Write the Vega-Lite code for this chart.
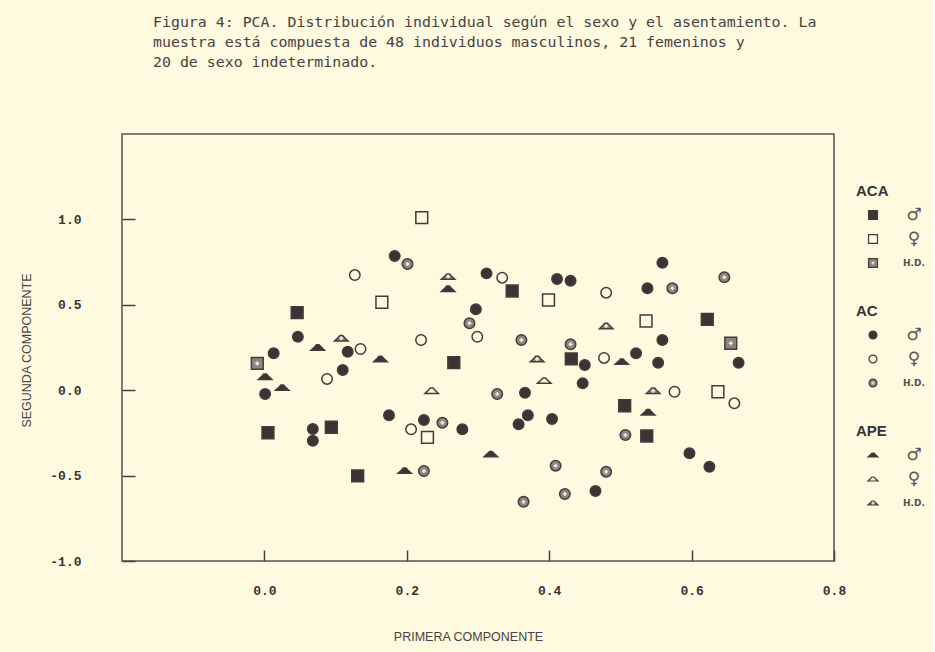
{
  "$schema": "https://vega.github.io/schema/vega-lite/v6.json",
  "background": "#fdfadf",
  "padding": {"left": 19, "top": 15, "right": 8, "bottom": 8},
  "bounds": "flush",
  "spacing": 39,
  "title": {
    "text": ["Figura 4: PCA. Distribución individual según el sexo y el asentamiento. La", "muestra está compuesta de 48 individuos masculinos, 21 femeninos y", "20 de sexo indeterminado."],
    "anchor": "start", "frame": "group", "dx": 31, "offset": 63,
    "font": "DejaVu Sans Mono", "fontSize": 14.9, "fontWeight": "normal", "color": "#4a4242", "lineHeight": 20
  },
  "datasets": {
    "pts": [
      {"sitio": "ACA", "sexo": "M", "pc1": 0.046, "pc2": 0.454},
      {"sitio": "ACA", "sexo": "M", "pc1": 0.348, "pc2": 0.581},
      {"sitio": "ACA", "sexo": "M", "pc1": 0.622, "pc2": 0.415},
      {"sitio": "ACA", "sexo": "M", "pc1": 0.266, "pc2": 0.161},
      {"sitio": "ACA", "sexo": "M", "pc1": 0.431, "pc2": 0.183},
      {"sitio": "ACA", "sexo": "M", "pc1": 0.506, "pc2": -0.091},
      {"sitio": "ACA", "sexo": "M", "pc1": 0.537, "pc2": -0.268},
      {"sitio": "ACA", "sexo": "M", "pc1": 0.005, "pc2": -0.249},
      {"sitio": "ACA", "sexo": "M", "pc1": 0.094, "pc2": -0.217},
      {"sitio": "ACA", "sexo": "M", "pc1": 0.131, "pc2": -0.502},
      {"sitio": "ACA", "sexo": "F", "pc1": 0.221, "pc2": 1.010},
      {"sitio": "ACA", "sexo": "F", "pc1": 0.165, "pc2": 0.515},
      {"sitio": "ACA", "sexo": "F", "pc1": 0.399, "pc2": 0.528},
      {"sitio": "ACA", "sexo": "F", "pc1": 0.536, "pc2": 0.405},
      {"sitio": "ACA", "sexo": "F", "pc1": 0.637, "pc2": -0.009},
      {"sitio": "ACA", "sexo": "F", "pc1": 0.229, "pc2": -0.276},
      {"sitio": "ACA", "sexo": "ND", "pc1": -0.010, "pc2": 0.157},
      {"sitio": "ACA", "sexo": "ND", "pc1": 0.655, "pc2": 0.275},
      {"sitio": "AC", "sexo": "M", "pc1": 0.047, "pc2": 0.313},
      {"sitio": "AC", "sexo": "M", "pc1": 0.183, "pc2": 0.786},
      {"sitio": "AC", "sexo": "M", "pc1": 0.312, "pc2": 0.684},
      {"sitio": "AC", "sexo": "M", "pc1": 0.411, "pc2": 0.651},
      {"sitio": "AC", "sexo": "M", "pc1": 0.430, "pc2": 0.641},
      {"sitio": "AC", "sexo": "M", "pc1": 0.297, "pc2": 0.474},
      {"sitio": "AC", "sexo": "M", "pc1": 0.559, "pc2": 0.746},
      {"sitio": "AC", "sexo": "M", "pc1": 0.538, "pc2": 0.597},
      {"sitio": "AC", "sexo": "M", "pc1": 0.559, "pc2": 0.294},
      {"sitio": "AC", "sexo": "M", "pc1": 0.522, "pc2": 0.216},
      {"sitio": "AC", "sexo": "M", "pc1": 0.553, "pc2": 0.161},
      {"sitio": "AC", "sexo": "M", "pc1": 0.666, "pc2": 0.161},
      {"sitio": "AC", "sexo": "M", "pc1": 0.597, "pc2": -0.369},
      {"sitio": "AC", "sexo": "M", "pc1": 0.625, "pc2": -0.448},
      {"sitio": "AC", "sexo": "M", "pc1": 0.450, "pc2": 0.148},
      {"sitio": "AC", "sexo": "M", "pc1": 0.447, "pc2": 0.040},
      {"sitio": "AC", "sexo": "M", "pc1": 0.366, "pc2": -0.015},
      {"sitio": "AC", "sexo": "M", "pc1": 0.175, "pc2": -0.147},
      {"sitio": "AC", "sexo": "M", "pc1": 0.224, "pc2": -0.174},
      {"sitio": "AC", "sexo": "M", "pc1": 0.278, "pc2": -0.229},
      {"sitio": "AC", "sexo": "M", "pc1": 0.370, "pc2": -0.147},
      {"sitio": "AC", "sexo": "M", "pc1": 0.357, "pc2": -0.200},
      {"sitio": "AC", "sexo": "M", "pc1": 0.404, "pc2": -0.169},
      {"sitio": "AC", "sexo": "M", "pc1": 0.465, "pc2": -0.590},
      {"sitio": "AC", "sexo": "M", "pc1": 0.013, "pc2": 0.216},
      {"sitio": "AC", "sexo": "M", "pc1": 0.001, "pc2": -0.022},
      {"sitio": "AC", "sexo": "M", "pc1": 0.068, "pc2": -0.227},
      {"sitio": "AC", "sexo": "M", "pc1": 0.068, "pc2": -0.296},
      {"sitio": "AC", "sexo": "M", "pc1": 0.117, "pc2": 0.225},
      {"sitio": "AC", "sexo": "M", "pc1": 0.110, "pc2": 0.118},
      {"sitio": "AC", "sexo": "F", "pc1": 0.127, "pc2": 0.674},
      {"sitio": "AC", "sexo": "F", "pc1": 0.334, "pc2": 0.659},
      {"sitio": "AC", "sexo": "F", "pc1": 0.480, "pc2": 0.571},
      {"sitio": "AC", "sexo": "F", "pc1": 0.220, "pc2": 0.294},
      {"sitio": "AC", "sexo": "F", "pc1": 0.299, "pc2": 0.313},
      {"sitio": "AC", "sexo": "F", "pc1": 0.477, "pc2": 0.189},
      {"sitio": "AC", "sexo": "F", "pc1": 0.576, "pc2": -0.009},
      {"sitio": "AC", "sexo": "F", "pc1": 0.660, "pc2": -0.077},
      {"sitio": "AC", "sexo": "F", "pc1": 0.206, "pc2": -0.229},
      {"sitio": "AC", "sexo": "F", "pc1": 0.135, "pc2": 0.241},
      {"sitio": "AC", "sexo": "F", "pc1": 0.088, "pc2": 0.066},
      {"sitio": "AC", "sexo": "ND", "pc1": 0.201, "pc2": 0.739},
      {"sitio": "AC", "sexo": "ND", "pc1": 0.288, "pc2": 0.392},
      {"sitio": "AC", "sexo": "ND", "pc1": 0.361, "pc2": 0.294},
      {"sitio": "AC", "sexo": "ND", "pc1": 0.430, "pc2": 0.269},
      {"sitio": "AC", "sexo": "ND", "pc1": 0.646, "pc2": 0.661},
      {"sitio": "AC", "sexo": "ND", "pc1": 0.573, "pc2": 0.597},
      {"sitio": "AC", "sexo": "ND", "pc1": 0.507, "pc2": -0.262},
      {"sitio": "AC", "sexo": "ND", "pc1": 0.480, "pc2": -0.477},
      {"sitio": "AC", "sexo": "ND", "pc1": 0.327, "pc2": -0.022},
      {"sitio": "AC", "sexo": "ND", "pc1": 0.250, "pc2": -0.190},
      {"sitio": "AC", "sexo": "ND", "pc1": 0.224, "pc2": -0.473},
      {"sitio": "AC", "sexo": "ND", "pc1": 0.409, "pc2": -0.442},
      {"sitio": "AC", "sexo": "ND", "pc1": 0.422, "pc2": -0.608},
      {"sitio": "AC", "sexo": "ND", "pc1": 0.364, "pc2": -0.653},
      {"sitio": "APE", "sexo": "M", "pc1": 0.258, "pc2": 0.594},
      {"sitio": "APE", "sexo": "M", "pc1": 0.502, "pc2": 0.167},
      {"sitio": "APE", "sexo": "M", "pc1": 0.539, "pc2": -0.129},
      {"sitio": "APE", "sexo": "M", "pc1": 0.163, "pc2": 0.183},
      {"sitio": "APE", "sexo": "M", "pc1": 0.318, "pc2": -0.374},
      {"sitio": "APE", "sexo": "M", "pc1": 0.197, "pc2": -0.471},
      {"sitio": "APE", "sexo": "M", "pc1": 0.001, "pc2": 0.079},
      {"sitio": "APE", "sexo": "M", "pc1": 0.025, "pc2": 0.015},
      {"sitio": "APE", "sexo": "M", "pc1": 0.075, "pc2": 0.250},
      {"sitio": "APE", "sexo": "F", "pc1": 0.393, "pc2": 0.056},
      {"sitio": "APE", "sexo": "F", "pc1": 0.235, "pc2": -0.003},
      {"sitio": "APE", "sexo": "ND", "pc1": 0.108, "pc2": 0.304},
      {"sitio": "APE", "sexo": "ND", "pc1": 0.258, "pc2": 0.665},
      {"sitio": "APE", "sexo": "ND", "pc1": 0.383, "pc2": 0.183},
      {"sitio": "APE", "sexo": "ND", "pc1": 0.546, "pc2": -0.003},
      {"sitio": "APE", "sexo": "ND", "pc1": 0.480, "pc2": 0.376}
    ],
    "leg": [
      {"sitio": "ACA", "sexo": "M", "key": "ACA-M", "lab": "♂"},
      {"sitio": "ACA", "sexo": "F", "key": "ACA-F", "lab": "♀"},
      {"sitio": "ACA", "sexo": "ND", "key": "ACA-ND", "lab": "H.D."},
      {"sitio": "AC", "sexo": "M", "key": "AC-M", "lab": "♂"},
      {"sitio": "AC", "sexo": "F", "key": "AC-F", "lab": "♀"},
      {"sitio": "AC", "sexo": "ND", "key": "AC-ND", "lab": "H.D."},
      {"sitio": "APE", "sexo": "M", "key": "APE-M", "lab": "♂"},
      {"sitio": "APE", "sexo": "F", "key": "APE-F", "lab": "♀"},
      {"sitio": "APE", "sexo": "ND", "key": "APE-ND", "lab": "H.D."}
    ],
    "hdr": [
      {"sitio": "ACA", "key": "ACA-h"},
      {"sitio": "AC", "key": "AC-h"},
      {"sitio": "APE", "key": "APE-h"}
    ]
  },
  "hconcat": [
    {
      "width": 712,
      "height": 427,
      "data": {"name": "pts"},
      "layer": [
        {
          "mark": {"type": "point", "filled": true, "stroke": "#453b3b", "strokeWidth": 1.5, "opacity": 1},
          "encoding": {
            "x": {
              "field": "pc1", "type": "quantitative",
              "scale": {"domain": [-0.2, 0.8], "nice": false, "zero": false},
              "axis": {
                "values": [0, 0.2, 0.4, 0.6, 0.8],
                "labelExpr": "(datum.value < 0 ? '-' : '') + format(abs(datum.value), '.1f')",
                "grid": false, "domain": false, "zindex": 2,
                "tickSize": -11, "tickColor": "#4a4040", "tickWidth": 1.5,
                "labelFont": "Liberation Mono", "labelFontWeight": "bold", "labelFontSize": 13, "labelColor": "#3a3232",
                "labelPadding": 34, "labelFlush": false, "labelOverlap": false,
                "title": "PRIMERA COMPONENTE", "titleFont": "Liberation Sans", "titleFontSize": 12.5, "titleFontWeight": "normal",
                "titleColor": "#4a4242", "titleX": 346, "titleY": 75, "titleBaseline": "middle", "titleAlign": "center"
              }
            },
            "y": {
              "field": "pc2", "type": "quantitative",
              "scale": {"domain": [-1, 1.5], "nice": false, "zero": false},
              "axis": {
                "values": [-1, -0.5, 0, 0.5, 1],
                "labelExpr": "(datum.value < 0 ? '-' : '') + format(abs(datum.value), '.1f')",
                "grid": false, "domain": false, "zindex": 2,
                "tickSize": -13, "tickColor": "#4a4040", "tickWidth": 1.5,
                "labelFont": "Liberation Mono", "labelFontWeight": "bold", "labelFontSize": 13, "labelColor": "#3a3232",
                "labelPadding": 54, "labelFlush": false, "labelOverlap": false,
                "title": "SEGUNDA COMPONENTE", "titleFont": "Liberation Sans", "titleFontSize": 12.5, "titleFontWeight": "normal",
                "titleColor": "#4a4242", "titleX": -96, "titleY": 216, "titleAngle": -90, "titleBaseline": "middle", "titleAlign": "center"
              }
            },
            "shape": {"field": "sitio", "type": "nominal", "scale": {"domain": ["ACA", "AC", "APE"], "range": ["square", "circle", "M-1.5,0.6L1.5,0.6L0.7,-0.15L0.3,-0.6L-0.3,-0.6L-0.7,-0.15Z"]}, "legend": null},
            "fill": {"field": "sexo", "type": "nominal", "scale": {"domain": ["M", "F", "ND"], "range": ["#3d3334", "#fdfadf", "#8f8485"]}, "legend": null},
            "size": {"field": "sitio", "type": "ordinal", "scale": {"domain": ["ACA", "AC", "APE"], "range": [140, 80, 80]}, "legend": null}
          }
        },
        {
          "transform": [{"filter": "datum.sexo === 'ND'"}],
          "mark": {"type": "point", "shape": "cross", "filled": true, "fill": "#f3eed3", "size": 16, "strokeWidth": 0, "opacity": 1},
          "encoding": {
            "x": {"field": "pc1", "type": "quantitative"},
            "y": {"field": "pc2", "type": "quantitative"}
          }
        }
      ]
    },
    {
      "width": 41,
      "height": 427,
      "view": {"stroke": null},
      "layer": [
        {
          "data": {"name": "leg"},
          "mark": {"type": "point", "filled": true, "stroke": "#453b3b", "strokeWidth": 1.2, "opacity": 1},
          "encoding": {
            "x": {"datum": "s", "type": "nominal", "scale": {"type": "point", "domain": ["s", "l"], "padding": 0}, "axis": null},
            "y": {"field": "key", "type": "nominal", "scale": {"type": "point", "padding": 0, "domain": ["ACA-h", "ACA-M", "ACA-F", "ACA-ND", "g1", "AC-h", "AC-M", "AC-F", "AC-ND", "g2", "APE-h", "APE-M", "APE-F", "APE-ND"], "range": [57, 369]}, "axis": null},
            "shape": {"field": "sitio", "type": "nominal", "scale": {"domain": ["ACA", "AC", "APE"], "range": ["square", "circle", "M-1.5,0.6L1.5,0.6L0.7,-0.15L0.3,-0.6L-0.3,-0.6L-0.7,-0.15Z"]}, "legend": null},
            "fill": {"field": "sexo", "type": "nominal", "scale": {"domain": ["M", "F", "ND"], "range": ["#3d3334", "#fdfadf", "#8f8485"]}, "legend": null},
            "size": {"field": "sitio", "type": "ordinal", "scale": {"domain": ["ACA", "AC", "APE"], "range": [80, 45, 50]}, "legend": null}
          }
        },
        {
          "data": {"name": "leg"},
          "transform": [{"filter": "datum.sexo === 'ND'"}],
          "mark": {"type": "point", "shape": "cross", "filled": true, "fill": "#f3eed3", "size": 9, "strokeWidth": 0, "opacity": 1},
          "encoding": {
            "x": {"datum": "s", "type": "nominal"},
            "y": {"field": "key", "type": "nominal"}
          }
        },
        {
          "data": {"name": "leg"},
          "mark": {"type": "text", "font": "DejaVu Sans", "fontWeight": "bold", "color": "#5a5050", "baseline": "middle", "align": "center"},
          "encoding": {
            "x": {"datum": "l", "type": "nominal"},
            "y": {"field": "key", "type": "nominal"},
            "text": {"field": "lab"},
            "size": {"condition": {"test": "datum.sexo === 'ND'", "value": 9}, "value": 17}
          }
        },
        {
          "data": {"name": "hdr"},
          "mark": {"type": "text", "align": "left", "dx": -17, "font": "Liberation Sans", "fontWeight": "bold", "fontSize": 15, "color": "#3a3232", "baseline": "middle"},
          "encoding": {
            "x": {"datum": "s", "type": "nominal"},
            "y": {"field": "key", "type": "nominal"},
            "text": {"field": "sitio"}
          }
        }
      ]
    }
  ],
  "resolve": {"scale": {"size": "independent"}},
  "config": {
    "view": {"stroke": "#5a5050", "strokeWidth": 1.5}
  }
}
